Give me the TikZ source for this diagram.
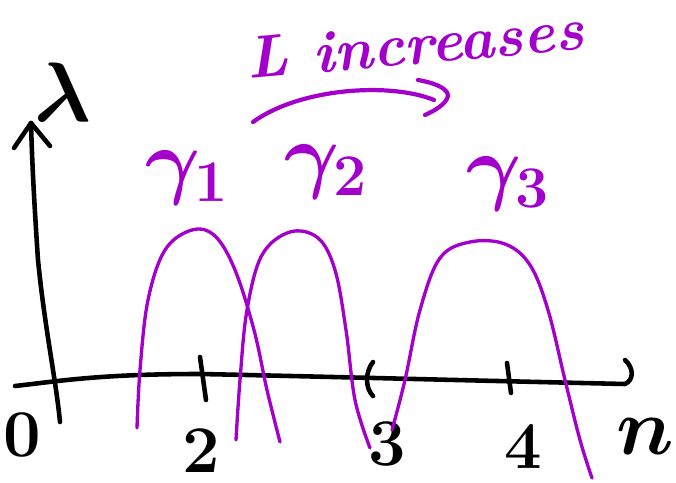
\RequirePackage{fix-cm}
\documentclass[tikz,border=0pt]{standalone}
\definecolor{purp}{RGB}{163,0,204}
\begin{document}
\begin{tikzpicture}[x=0.02cm,y=-0.02cm, line cap=round, line join=round,
  axis/.style={line width=2.6pt, black},
  curve/.style={line width=1.9pt, purp},
  lbl/.style={inner sep=0pt, font=\fontsize{38}{38}\selectfont\bfseries},
  glbl/.style={inner sep=0pt, purp, font=\fontsize{48}{48}\selectfont\boldmath}]
\useasboundingbox (0,0) rectangle (676,483);

% y axis
\coordinate (ybot) at (60,422);
\coordinate (ytop) at (31,123);
\draw[axis] (ybot) .. controls (56,380) and (45,330) .. (38,260) .. controls (34,200) and (32,160) .. (ytop);
\draw[axis] (14,148) -- (ytop) -- (50,146);
% x axis
\coordinate (xl) at (15,386);
\coordinate (xr) at (625,384);
\draw[axis] (xl) .. controls (60,381) and (100,374) .. (200,374)
  .. controls (300,376) and (450,380) .. (xr)
  .. controls (634,380) and (634,368) .. (625,360);
% ticks
\draw[axis] (200,357) -- (206,400);
\draw[axis] (373,362) .. controls (365,372) and (365,388) .. (373,396);
\draw[axis] (507,363) -- (511,393);

% tick labels
\node[lbl] (l0) at (22,435) {0};
\node[lbl] (l2) at (201,451) {2};
\node[lbl] (l3) at (387,444) {3};
\node[lbl] (l4) at (523,447) {4};
\node[inner sep=0pt, font=\fontsize{46}{46}\selectfont\boldmath] (ln) at (645,437) {$n$};
\node[inner sep=0pt, font=\fontsize{48}{48}\selectfont\boldmath] (lam) at (63,92) {$\lambda$};

% curves
\draw[curve] plot[smooth, tension=0.6] coordinates {(137,428) (140,370) (148,300) (165,250) (192,230) (215,236) (235,270) (254,330) (267,390) (280,442)};
\draw[curve] plot[smooth, tension=0.6] coordinates {(236,440) (240,380) (247,310) (262,255) (290,232) (318,238) (335,270) (346,330) (355,400) (370,448)};
\draw[curve] plot[smooth, tension=0.6] coordinates {(392,430) (405,380) (420,310) (440,258) (470,242) (505,244) (530,265) (548,310) (565,380) (580,440) (592,478)};

% gamma labels
\node[glbl] (g1) at (187,178) {$\gamma_1$};
\node[glbl] (g2) at (326,172) {$\gamma_2$};
\node[glbl] (g3) at (508,184) {$\gamma_3$};

% L increases
\node[inner sep=0pt, purp, rotate=5, font=\fontsize{34}{34}\selectfont\bfseries\itshape] (txt) at (415,44) {L increases};
\coordinate (a0) at (253,122);
\coordinate (a1) at (434,100);
\draw[purp, line width=2.4pt] (a0) .. controls (300,88) and (390,82) .. (a1);
\draw[purp, line width=2.4pt] (418,80) .. controls (440,84) and (448,90) .. (448,96) .. controls (446,104) and (436,110) .. (425,115);
\end{tikzpicture}
\end{document}
